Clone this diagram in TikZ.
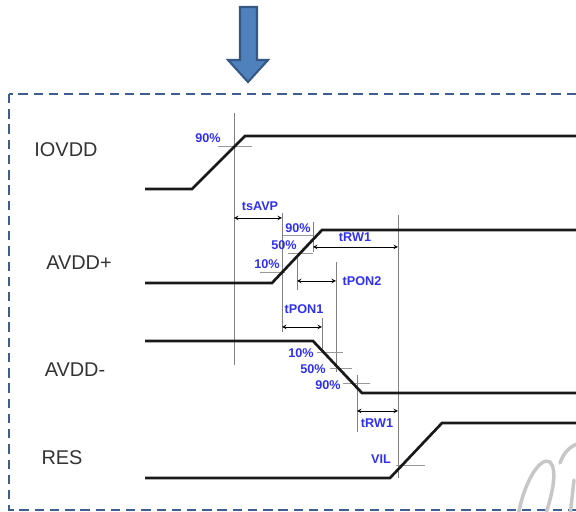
\documentclass[tikz,border=0pt]{standalone}
\usepackage{fontspec}
\setmainfont{Liberation Sans}

\definecolor{framedash}{HTML}{3D5F8F}
\definecolor{arrowfill}{HTML}{4F81BD}
\definecolor{arrowline}{HTML}{355887}
\definecolor{pctblue}{HTML}{3030F0}

\begin{document}
\begin{tikzpicture}[
    x=0.03cm, y=-0.03cm,
    signal/.style={line width=2.3pt, black!90},
    guide/.style={line width=0.8pt, black!50},
    tick/.style={line width=0.8pt, black!40},
    dim/.style={<->, >=stealth, line width=0.7pt, black},
    siglbl/.style={font=\fontsize{17}{19}\selectfont, text=black!80},
    pctlbl/.style={font=\fontsize{10.8}{12}\selectfont\bfseries, text=pctblue, inner sep=0pt},
    frame/.style={framedash, line width=2.4pt, dash pattern=on 8pt off 5pt},
    wmark/.style={black!22, line width=3pt, line cap=round},
]
\useasboundingbox (0,0) rectangle (576,512);
\clip (0,0) rectangle (576,512);

% --- Block arrow on top ---
\filldraw[fill=arrowfill, draw=arrowline, line width=1.8pt]
    (240,7) -- (257,7) -- (257,60) -- (268,60) -- (248,82) -- (228,60) -- (240,60) -- cycle;

% --- Dashed frame ---
\draw[frame] (9,94) rectangle (600,510);

% --- Watermark fragment ---
\draw[wmark] (518,516) .. controls (524,482) and (540,456) .. (550,462)
                       .. controls (558,470) and (552,496) .. (545,516);
\draw[wmark] (560,463) .. controls (564,452) and (570,446) .. (580,443);
\draw[wmark] (574,480) -- (570,516);

% --- Signal names ---
\node[siglbl] (iovdd) at (66,150) {IOVDD};
\node[siglbl] (avddp) at (79,263) {AVDD+};
\node[siglbl] (avddm) at (75,370) {AVDD-};
\node[siglbl] (res)   at (62,458) {RES};

% --- Guide lines ---
\draw[guide] (234,113) -- (234,365);
\draw[guide] (282,213) -- (282,332);
\draw[guide] (297,253) -- (297,290);
\draw[guide] (313,222) -- (313,252);
\draw[guide] (322,318) -- (322,350);
\draw[guide] (336,262) -- (336,372);
\draw[guide] (357,375) -- (357,432);
\draw[guide] (398,215) -- (398,478);

% --- Level ticks ---
\draw[tick] (218,146) -- (252,146);
\draw[tick] (283,235) -- (313,235);
\draw[tick] (288,253) -- (313,253);
\draw[tick] (260,272) -- (285,272);
\draw[tick] (317,352) -- (343,352);
\draw[tick] (330,368) -- (352,368);
\draw[tick] (343,383) -- (370,383);
\draw[tick] (396,465) -- (425,465);

% --- Waveforms ---
\draw[signal] (145,189) -- (192,189) -- (245,136) -- (580,136);
\draw[signal] (145,283) -- (272,283) -- (322,230) -- (580,230);
\draw[signal] (145,341) -- (313,341) -- (362,393) -- (580,393);
\draw[signal] (145,478) -- (390,478) -- (442,423) -- (580,423);

% --- Level labels ---
\node[pctlbl] (p90a) at (208,138) {90\%};
\node[pctlbl] (p90b) at (298,228) {90\%};
\node[pctlbl] (p50b) at (284,245) {50\%};
\node[pctlbl] (p10b) at (267,264) {10\%};
\node[pctlbl] (p10c) at (301,353) {10\%};
\node[pctlbl] (p50c) at (313,369) {50\%};
\node[pctlbl] (p90c) at (328,385) {90\%};
\node[pctlbl] (vil)  at (381,459) {VIL};

% --- Timing intervals ---
\draw[dim] (234,218) -- (282,218);
\node[pctlbl] (tsavp) at (260,206) {tsAVP};
\draw[dim] (313,247) -- (398,247);
\node[pctlbl] (trwa) at (355,237) {tRW1};
\draw[dim] (297,281) -- (336,281);
\node[pctlbl] (tpon2) at (362,281) {tPON2};
\draw[dim] (282,327) -- (322,327);
\node[pctlbl] (tpon1) at (304,309) {tPON1};
\draw[dim] (357,411) -- (398,411);
\node[pctlbl] (trwb) at (377,423) {tRW1};

\end{tikzpicture}
\end{document}
